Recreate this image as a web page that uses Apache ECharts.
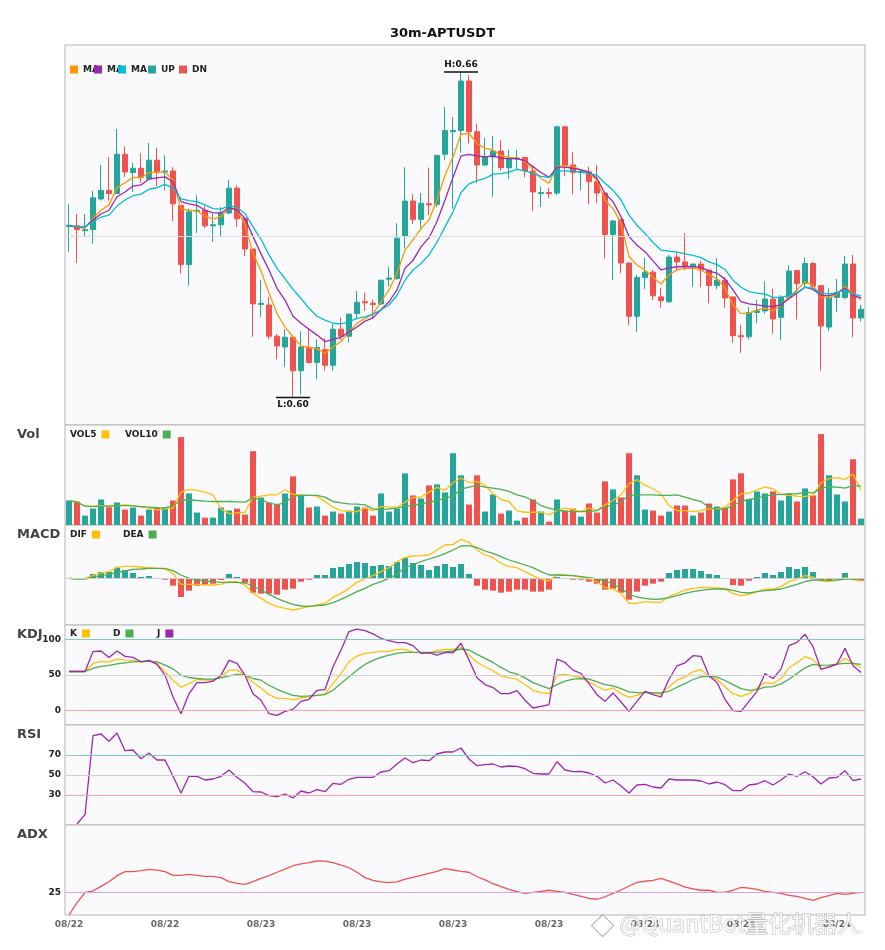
<!DOCTYPE html>
<html>
<head>
<meta charset="utf-8">
<title>30m-APTUSDT</title>
<script src="https://cdn.jsdelivr.net/npm/echarts@6/dist/echarts.min.js"></script>
<style>
  html, body { margin: 0; padding: 0; background: #fff; }
  #chart { width: 885px; height: 950px; }
</style>
</head>
<body>
<div id="chart"></div>
<script>
// 30m candles
var opens = [
  0.6319,0.6320,0.6311,0.6313,0.6370,0.6386,0.6380,0.6453,0.6419,0.6427,
  0.6407,0.6442,0.6420,0.6422,0.6358,0.6248,0.6347,0.6349,0.6320,0.6322,
  0.6344,0.6390,0.6334,0.6277,0.6174,0.6173,0.6115,0.6095,0.6113,0.6051,
  0.6094,0.6066,0.6090,0.6061,0.6128,0.6115,0.6157,0.6179,0.6176,0.6175,
  0.6221,0.6222,0.6300,0.6366,0.6332,0.6361,0.6360,0.6453,0.6495,0.6497,
  0.6589,0.6495,0.6433,0.6448,0.6459,0.6428,0.6444,0.6447,0.6422,0.6380,
  0.6382,0.6381,0.6504,0.6433,0.6419,0.6420,0.6402,0.6381,0.6304,0.6332,
  0.6251,0.6152,0.6224,0.6234,0.6188,0.6179,0.6262,0.6253,0.6245,0.6249,
  0.6238,0.6209,0.6219,0.6188,0.6116,0.6114,0.6159,0.6162,0.6184,0.6150,
  0.6187,0.6237,0.6213,0.6250,0.6209,0.6132,0.6187,0.6187,0.6249,0.6149];
var closes = [
  0.6321,0.6313,0.6313,0.6372,0.6386,0.6380,0.6453,0.6420,0.6427,0.6410,
  0.6442,0.6420,0.6422,0.6361,0.6248,0.6346,0.6349,0.6320,0.6322,0.6344,
  0.6390,0.6333,0.6277,0.6175,0.6176,0.6115,0.6097,0.6113,0.6051,0.6095,
  0.6066,0.6094,0.6061,0.6128,0.6115,0.6156,0.6178,0.6177,0.6174,0.6219,
  0.6223,0.6297,0.6366,0.6332,0.6362,0.6359,0.6451,0.6497,0.6497,0.6589,
  0.6495,0.6433,0.6448,0.6459,0.6428,0.6444,0.6446,0.6422,0.6383,0.6382,
  0.6380,0.6504,0.6433,0.6419,0.6421,0.6402,0.6381,0.6304,0.6329,0.6251,
  0.6152,0.6224,0.6234,0.6190,0.6181,0.6262,0.6253,0.6245,0.6249,0.6238,
  0.6209,0.6219,0.6186,0.6116,0.6114,0.6159,0.6162,0.6184,0.6147,0.6187,
  0.6236,0.6213,0.6250,0.6208,0.6134,0.6187,0.6196,0.6249,0.6149,0.6165];
var lows = [
  0.6272,0.6251,0.6300,0.6287,0.6367,0.6367,0.6379,0.6411,0.6383,0.6400,
  0.6405,0.6394,0.6386,0.6329,0.6231,0.6209,0.6307,0.6316,0.6290,0.6300,
  0.6342,0.6318,0.6264,0.6114,0.6151,0.6109,0.6072,0.6058,0.6001,0.6007,
  0.6065,0.6035,0.6051,0.6051,0.6108,0.6103,0.6148,0.6162,0.6148,0.6173,
  0.6207,0.6220,0.6278,0.6323,0.6315,0.6340,0.6355,0.6442,0.6352,0.6456,
  0.6473,0.6399,0.6431,0.6374,0.6422,0.6407,0.6425,0.6410,0.6348,0.6355,
  0.6372,0.6377,0.6412,0.6379,0.6386,0.6360,0.6362,0.6260,0.6219,0.6232,
  0.6136,0.6123,0.6203,0.6182,0.6168,0.6177,0.6236,0.6238,0.6207,0.6206,
  0.6176,0.6202,0.6168,0.6103,0.6084,0.6109,0.6139,0.6157,0.6120,0.6108,
  0.6183,0.6146,0.6207,0.6201,0.6051,0.6125,0.6160,0.6184,0.6113,0.6142];
var highs = [
  0.6360,0.6342,0.6342,0.6385,0.6433,0.6448,0.6500,0.6468,0.6437,0.6455,
  0.6474,0.6465,0.6451,0.6429,0.6358,0.6352,0.6377,0.6357,0.6342,0.6355,
  0.6405,0.6395,0.6334,0.6277,0.6219,0.6188,0.6119,0.6128,0.6113,0.6124,
  0.6130,0.6109,0.6111,0.6137,0.6149,0.6156,0.6199,0.6196,0.6183,0.6219,
  0.6244,0.6325,0.6429,0.6379,0.6381,0.6428,0.6451,0.6541,0.6522,0.6606,
  0.6600,0.6510,0.6484,0.6487,0.6479,0.6461,0.6461,0.6447,0.6431,0.6393,
  0.6390,0.6506,0.6506,0.6457,0.6424,0.6430,0.6433,0.6381,0.6331,0.6332,
  0.6251,0.6229,0.6261,0.6238,0.6205,0.6266,0.6272,0.6306,0.6250,0.6255,
  0.6238,0.6260,0.6225,0.6188,0.6136,0.6169,0.6182,0.6217,0.6203,0.6191,
  0.6247,0.6237,0.6261,0.6253,0.6209,0.6204,0.6221,0.6264,0.6266,0.6173];

// moving averages on the price panel
var maFast = [
  0.6320,0.6317,0.6316,0.6334,0.6349,0.6359,0.6391,0.6400,0.6410,0.6409,
  0.6419,0.6420,0.6420,0.6405,0.6351,0.6349,0.6348,0.6337,0.6333,0.6337,
  0.6354,0.6349,0.6323,0.6269,0.6236,0.6195,0.6157,0.6132,0.6114,0.6097,
  0.6094,0.6092,0.6083,0.6095,0.6105,0.6123,0.6139,0.6148,0.6156,0.6179,
  0.6201,0.6232,0.6275,0.6294,0.6315,0.6331,0.6368,0.6414,0.6448,0.6490,
  0.6492,0.6473,0.6464,0.6461,0.6451,0.6447,0.6446,0.6439,0.6424,0.6408,
  0.6399,0.6431,0.6432,0.6430,0.6424,0.6419,0.6404,0.6368,0.6352,0.6325,
  0.6263,0.6247,0.6238,0.6224,0.6212,0.6229,0.6238,0.6241,0.6241,0.6238,
  0.6229,0.6222,0.6204,0.6173,0.6157,0.6158,0.6164,0.6167,0.6162,0.6173,
  0.6188,0.6201,0.6216,0.6210,0.6188,0.6186,0.6193,0.6208,0.6193,0.6183];
var maMid = [
  0.6320,0.6318,0.6318,0.6331,0.6342,0.6349,0.6374,0.6383,0.6394,0.6396,
  0.6407,0.6409,0.6411,0.6402,0.6365,0.6361,0.6358,0.6349,0.6344,0.6344,
  0.6354,0.6349,0.6334,0.6300,0.6268,0.6238,0.6204,0.6182,0.6152,0.6139,
  0.6128,0.6117,0.6105,0.6109,0.6113,0.6123,0.6132,0.6143,0.6149,0.6164,
  0.6179,0.6201,0.6241,0.6256,0.6281,0.6298,0.6328,0.6368,0.6410,0.6450,
  0.6453,0.6450,0.6448,0.6450,0.6446,0.6445,0.6445,0.6441,0.6430,0.6419,
  0.6410,0.6429,0.6429,0.6427,0.6424,0.6420,0.6408,0.6380,0.6365,0.6337,
  0.6300,0.6284,0.6272,0.6255,0.6238,0.6242,0.6244,0.6244,0.6244,0.6243,
  0.6236,0.6232,0.6221,0.6201,0.6179,0.6175,0.6173,0.6171,0.6170,0.6173,
  0.6185,0.6195,0.6206,0.6202,0.6191,0.6190,0.6195,0.6204,0.6191,0.6186];
var maSlow = [
  0.6320,0.6319,0.6318,0.6328,0.6336,0.6340,0.6357,0.6368,0.6376,0.6379,
  0.6388,0.6391,0.6397,0.6390,0.6370,0.6367,0.6365,0.6359,0.6352,0.6351,
  0.6357,0.6354,0.6343,0.6318,0.6295,0.6266,0.6241,0.6222,0.6202,0.6185,
  0.6167,0.6152,0.6145,0.6139,0.6138,0.6142,0.6148,0.6151,0.6156,0.6164,
  0.6173,0.6191,0.6219,0.6238,0.6250,0.6266,0.6290,0.6318,0.6346,0.6382,
  0.6398,0.6404,0.6408,0.6416,0.6417,0.6420,0.6425,0.6422,0.6417,0.6412,
  0.6410,0.6422,0.6422,0.6421,0.6420,0.6417,0.6414,0.6399,0.6386,0.6368,
  0.6340,0.6321,0.6306,0.6289,0.6275,0.6273,0.6271,0.6268,0.6265,0.6261,
  0.6253,0.6248,0.6239,0.6219,0.6206,0.6198,0.6195,0.6193,0.6187,0.6187,
  0.6191,0.6196,0.6206,0.6204,0.6195,0.6193,0.6196,0.6201,0.6193,0.6190];

// volume panel
var volume = [
  73,70,28,49,76,53,67,46,52,28, 46,52,52,73,262,94,37,22,22,52,
  43,49,31,220,82,67,61,94,145,88, 52,55,28,40,34,43,55,52,28,94,
  40,49,154,88,79,118,121,97,214,148, 61,148,40,91,34,43,13,22,76,40,
  10,76,43,49,25,64,37,130,106,82, 214,148,46,43,28,40,58,58,28,37,
  64,55,52,136,154,76,100,94,100,73, 94,70,109,88,271,148,91,70,196,19];
var vol5 = [
  72,70,56,56,58,56,58,60,58,54, 50,45,48,50,98,106,103,98,90,48,
  34,36,38,83,86,90,90,105,91,90, 88,86,70,53,43,40,40,50,43,55,
  54,53,68,82,83,98,112,103,126,140, 126,130,118,93,76,70,42,38,38,38,
  30,43,50,46,40,51,43,60,73,90, 123,135,118,108,93,58,43,43,40,43,
  48,48,53,73,93,95,105,113,108,91, 88,86,85,88,126,138,141,136,152,103];
var vol10 = [
  72,68,56,55,56,56,58,58,57,55, 53,51,51,58,73,76,73,71,70,70,
  70,69,68,81,76,65,61,66,86,88, 88,88,83,70,66,63,62,60,48,45,
  48,50,56,58,63,68,73,80,86,107, 113,118,113,110,106,100,90,84,73,58,
  50,44,41,40,40,40,43,56,58,70, 88,90,90,90,88,88,90,83,76,70,
  53,46,48,58,70,76,80,86,90,91, 93,93,98,95,110,114,113,110,118,116];

// MACD panel (units of 1e-5)
var macdHist = [
  0,-2,-2,13,19,19,32,25,16,4, 7,-2,-4,-22,-56,-37,-22,-19,-16,-5,
  13,4,-13,-43,-46,-46,-49,-34,-31,-10, -4,10,10,31,34,43,49,46,37,40,
  37,49,61,46,40,25,37,43,34,43, 13,-22,-34,-37,-43,-40,-34,-34,-40,-40,
  -34,4,-2,-4,-4,-10,-16,-34,-31,-43, -64,-40,-22,-16,-10,16,25,28,28,22,
  13,10,0,-20,-22,-7,4,16,10,19, 34,28,34,19,-7,-7,-2,16,-4,-7];
var dif = [
  0,-2,0,8,16,20,33,36,36,34, 32,30,28,15,-18,-18,-18,-20,-20,-18,
  -10,-10,-20,-45,-60,-75,-85,-90,-95,-90, -85,-80,-75,-57,-45,-30,-12,-2,8,20,
  32,50,63,67,68,70,85,100,102,117, 108,85,70,62,45,35,32,20,8,-2,
  -8,12,10,8,4,-2,-10,-28,-32,-45, -75,-75,-70,-72,-72,-55,-45,-35,-30,-27,
  -28,-29,-32,-45,-52,-48,-40,-32,-32,-25, -10,-2,8,4,-8,-10,-5,2,-4,-8];
var dea = [
  0,-2,-2,4,8,12,17,22,27,28, 30,30,30,23,10,0,-5,-8,-10,-12,
  -12,-12,-14,-23,-35,-48,-60,-70,-78,-83, -84,-82,-80,-73,-63,-52,-40,-30,-18,-10,
  0,13,32,40,50,58,65,74,85,97, 98,92,82,75,65,55,48,40,32,20,
  10,10,9,8,5,2,-2,-8,-17,-30, -48,-56,-60,-63,-62,-58,-52,-45,-40,-36,
  -33,-32,-32,-36,-42,-44,-40,-37,-35,-32, -25,-18,-10,-5,-5,-6,-5,-2,-2,-3];

// KDJ panel
var kdjK = [
  54.9,54.9,54.9,66.2,69.0,68.1,72.3,70.9,70.4,67.6, 70.0,66.2,54.5,42.7,32.9,38.0,43.7,42.7,42.7,47.4,
  56.8,56.8,49.8,39.4,31.9,22.5,17.4,17.4,15.5,17.8, 19.7,21.6,23.9,38.0,52.1,68.5,76.5,80.3,81.7,83.1,
  83.1,85.9,85.9,81.7,81.2,79.8,84.5,85.9,85.9,88.7, 77.9,67.6,61.5,55.9,48.8,46.0,44.1,36.6,28.6,25.4,
  23.9,49.8,50.7,48.8,46.5,40.4,34.3,28.6,31.9,23.9, 18.8,21.6,26.3,24.9,23.0,33.3,42.7,47.4,54.5,57.7,
  47.4,44.1,33.3,23.9,20.2,23.9,31.9,39.4,38.0,45.1, 60.1,67.1,75.6,71.8,59.2,60.6,64.8,73.2,66.2,60.6];
var kdjD = [
  54.9,54.9,54.9,59.2,62.0,63.4,65.7,67.1,68.5,69.0, 69.0,68.5,63.8,58.7,49.8,46.5,45.1,44.1,44.1,46.0,
  48.8,50.7,49.8,45.1,42.7,35.7,30.0,25.4,21.6,20.2, 20.7,21.6,22.5,28.6,38.0,47.4,56.8,64.8,70.4,74.6,
  77.9,80.3,81.7,81.7,81.7,81.7,81.7,82.6,83.6,86.4, 85.0,78.9,73.2,67.6,60.6,54.5,51.2,46.0,39.4,35.2,
  31.0,36.6,41.3,44.1,45.1,44.1,40.4,36.6,34.7,31.0, 26.3,25.4,25.4,24.9,24.9,27.2,32.9,38.0,43.7,47.4,
  48.4,46.9,42.3,36.6,31.0,28.6,29.6,32.9,33.8,37.6, 44.1,52.1,60.1,64.8,63.4,63.8,65.3,66.2,66.2,64.8];
var kdjJ = [
  54.9,54.9,54.9,82.6,83.6,74.6,83.6,76.1,74.6,68.5, 70.4,64.8,49.8,19.2,-4.2,23.9,39.4,39.4,41.3,49.8,
  70.4,66.2,49.8,23.9,14.6,-4.2,-6.6,-0.9,1.9,13.1, 16.0,28.6,29.6,61.5,85.0,110.8,114.1,112.2,107.5,101.4,
  98.1,95.3,95.3,91.1,80.3,81.2,77.9,81.2,81.2,94.4, 70.9,46.0,36.6,32.4,23.9,23.9,28.2,14.6,3.8,6.1,
  8.5,72.3,67.6,56.8,52.1,38.0,22.5,13.1,24.9,12.2, -0.9,13.1,27.2,22.5,19.2,44.1,62.9,67.1,77.0,76.1,
  48.8,39.4,16.0,0,-0.9,13.1,27.2,52.1,45.1,58.2, 91.1,95.8,107.0,89.7,57.7,61.5,65.3,87.3,62.9,53.5];

// RSI and ADX panels
var rsi = [
  null,1,10.3,89.3,91,83.7,92,74.3,75,66.3, 72,65,65,48.7,32,48.7,48.7,45,46,48.7,
  55,47.7,41.7,33.3,33,29.3,28.3,31,27,34, 32,35.3,33.3,41.7,40.7,45.7,47.7,47.7,47.7,53,
  54.3,61,67,62.3,65,64.3,71,73,73,77, 66,59.3,60.3,61,58,59,58.7,56.3,51.7,51,
  51,63.3,55,53.3,53.7,52,48.7,42,45,39, 32,40,40.7,38,37,46,45,45,45,44,
  41,43,40.3,34.3,34.3,40,41,44.3,40,45, 51,48.7,53.3,48.3,41,47,47.7,54.3,44.3,46];
var adx = [
  15,20.5,24.9,25.7,27.7,29.8,32.5,34.3,34.3,34.7, 35.3,34.9,34.3,32.6,32.6,33.1,32.6,32.2,32.2,31.6,
  29.8,29.1,28.6,29.8,31.3,32.5,34,35.4,36.9,37.7, 38.3,39,38.9,38.3,37.2,36,34,31.6,30.4,29.7,
  29.4,29.7,30.9,31.7,32.6,33.5,34.4,35.6,35,34.4, 34,32,30.6,28.9,27.6,26.4,25.4,24.6,25.1,25.5,
  26,25.5,25.1,24.2,23.3,22.4,22,23.1,24.6,26.1, 27.9,29.5,30,30.4,31.3,30.1,28.8,27.4,26.6,26,
  26,25.1,25.1,26,27.3,26.9,26.4,25.5,25.1,24.6, 23.7,23.3,22.4,21.5,22.7,23.6,24.6,24.2,24.6,25.1];

var kdjLevels = [100, 50, 0];
var rsiLevels = [70, 50, 30];
var adxLevels = [25];
var priceGridLine = 0.6305;

// bar times: 30 minute steps
var categories = [];
var t0 = Date.UTC(2023, 7, 22, 14, 0);
for (var i = 0; i < opens.length; i++) {
    var d = new Date(t0 + i * 30 * 60 * 1000);
    var mm = ('0' + (d.getUTCMonth() + 1)).slice(-2);
    var dd = ('0' + d.getUTCDate()).slice(-2);
    var hh = ('0' + d.getUTCHours()).slice(-2);
    var mi = ('0' + d.getUTCMinutes()).slice(-2);
    categories.push(mm + '/' + dd + ' ' + hh + ':' + mi);
}

var UP = '#26a69a', DN = '#ef5350';
var FONT = 'DejaVu Sans';

var kline = [];
var volBars = [];
var histBars = [];
var hiIdx = 0, loIdx = 0;
for (var i = 0; i < opens.length; i++) {
    kline.push([opens[i], closes[i], lows[i], highs[i]]);
    var up = closes[i] >= opens[i];
    volBars.push({value: volume[i], itemStyle: {color: up ? UP : DN}});
    histBars.push({value: macdHist[i], itemStyle: {color: macdHist[i] >= 0 ? UP : DN}});
    if (highs[i] > highs[hiIdx]) hiIdx = i;
    if (lows[i] < lows[loIdx]) loIdx = i;
}

function levelLine(levels, colors) {
    return {
        silent: true,
        symbol: ['none', 'none'],
        animation: false,
        label: {position: 'start', formatter: '{c}', color: '#222', fontSize: 9, fontWeight: 'bold', fontFamily: FONT, distance: 4},
        data: levels.map(function (v, k) {
            return {yAxis: v, lineStyle: {color: colors[k], type: 'solid', width: 1}};
        })
    };
}

var tops = [45, 425, 525, 625, 725, 825];
var heights = [380, 100, 100, 100, 100, 90];
var grids = [], xAxes = [], yAxes = [];
for (var g = 0; g < tops.length; g++) {
    grids.push({left: 65, right: 20, top: tops[g], height: heights[g], show: true,
        backgroundColor: '#fafafc', borderColor: '#b5b5b5', borderWidth: 1});
    xAxes.push({
        type: 'category', gridIndex: g, data: categories, boundaryGap: true,
        axisLine: {show: false}, axisTick: {show: false}, splitLine: {show: false},
        axisLabel: {
            show: g === tops.length - 1, interval: 11, color: '#666', fontSize: 9,
            fontWeight: 'bold', fontFamily: FONT, margin: 5,
            formatter: function (v) { return v.slice(0, 5); }
        }
    });
}
var yRanges = [[0.595, 0.6656], [0, 298], [-140, 160], [-20, 120], [0, 100], [15, 55]];
for (var g = 0; g < yRanges.length; g++) {
    yAxes.push({
        type: 'value', gridIndex: g, min: yRanges[g][0], max: yRanges[g][1], scale: true,
        axisLine: {show: false}, axisTick: {show: false}, axisLabel: {show: false},
        splitLine: {show: false}
    });
}

function lineSeries(name, data, color, xi, extra) {
    var s = {
        name: name, type: 'line', data: data, xAxisIndex: xi, yAxisIndex: xi,
        color: color, showSymbol: false, symbol: 'none', smooth: false,
        lineStyle: {color: color, width: 1.3}, animation: false, z: 3
    };
    for (var k in extra) s[k] = extra[k];
    return s;
}

function oneLegend(name, left, top, opts) {
    var l = {
        data: [name], left: left, top: top, padding: 0, itemGap: 0,
        itemWidth: 8, itemHeight: 8, icon: 'rect', selectedMode: false,
        textStyle: {color: '#222', fontSize: 9, fontWeight: 'bold', fontFamily: FONT}
    };
    for (var k in opts) {
        if (k === 'textWidth') l.textStyle.width = opts[k];
        else l[k] = opts[k];
    }
    return l;
}

var panelTitle = function (text, top) {
    return {text: text, left: 17, top: top, padding: 0,
        textStyle: {fontSize: 13, fontWeight: 'bold', color: '#444', fontFamily: FONT}};
};

var myChart = echarts.init(document.getElementById('chart'));
var option = {
    backgroundColor: '#ffffff',
    animation: false,
    textStyle: {fontFamily: FONT},
    title: [
        {text: '30m-APTUSDT', left: 'center', top: 27, padding: 0,
            textStyle: {fontSize: 13, fontWeight: 'bold', color: '#111', fontFamily: FONT}},
        panelTitle('Vol', 428),
        panelTitle('MACD', 528),
        panelTitle('KDJ', 628),
        panelTitle('RSI', 728),
        panelTitle('ADX', 828)
    ],
    legend: [
        oneLegend('MA5', 70, 65, {formatter: function () { return 'MA'; }}),
        oneLegend('MA10', 94, 65, {formatter: function () { return 'MA'; }}),
        oneLegend('MA20', 118, 65, {formatter: function () { return 'MA'; }}),
        oneLegend('UP', 148, 65, {}),
        oneLegend('DN', 179, 65, {}),
        oneLegend('VOL5', 70, 430, {align: 'right', textWidth: 26}),
        oneLegend('VOL10', 125, 430, {align: 'right', textWidth: 33}),
        oneLegend('DIF', 70, 530, {align: 'right', textWidth: 22}),
        oneLegend('DEA', 123, 530, {align: 'right', textWidth: 25}),
        oneLegend('K', 70, 629, {align: 'right', textWidth: 12}),
        oneLegend('D', 113, 629, {align: 'right', textWidth: 13}),
        oneLegend('J', 157, 629, {align: 'right', textWidth: 13})
    ],
    grid: grids,
    xAxis: xAxes,
    yAxis: yAxes,
    graphic: [
        {type: 'polygon', left: 591, top: 914, z: 100, silent: true,
            shape: {points: [[11, 0], [22, 11], [11, 22], [0, 11]]},
            style: {fill: 'rgba(255,255,255,0.85)', stroke: 'rgba(165,165,165,0.8)', lineWidth: 1.2}},
        {type: 'text', left: 619, top: 911, z: 100, silent: true,
            style: {text: '@QuantBot量化机器人', fill: 'rgba(255,255,255,0.85)',
                stroke: 'rgba(160,160,160,0.75)', lineWidth: 1,
                font: '23px "Noto Sans CJK SC"'}}
    ],
    series: [
        {
            name: 'K线', type: 'candlestick', data: kline, xAxisIndex: 0, yAxisIndex: 0,
            barWidth: '75%', animation: false,
            itemStyle: {color: UP, color0: DN, borderColor: UP, borderColor0: DN, borderWidth: 1},
            markLine: {
                silent: true, symbol: ['none', 'none'], label: {show: false}, animation: false,
                data: [{yAxis: priceGridLine}], lineStyle: {color: '#dcdce4', type: 'solid', width: 1}
            },
            markPoint: {
                symbol: 'rect', symbolSize: [34, 1.5], animation: false, silent: true,
                itemStyle: {color: '#111'},
                label: {fontSize: 9, fontWeight: 'bold', color: '#111', fontFamily: FONT, distance: 2},
                data: [
                    {coord: [hiIdx, highs[hiIdx]], label: {position: 'top', formatter: 'H:' + highs[hiIdx].toFixed(2)}},
                    {coord: [loIdx, lows[loIdx]], label: {position: 'bottom', formatter: 'L:' + lows[loIdx].toFixed(2)}}
                ]
            }
        },
        lineSeries('MA5', maFast, '#ff9800', 0),
        lineSeries('MA10', maMid, '#9c27b0', 0),
        lineSeries('MA20', maSlow, '#00bcd4', 0),
        lineSeries('UP', [], UP, 0),
        lineSeries('DN', [], DN, 0),

        {name: 'Vol', type: 'bar', data: volBars, xAxisIndex: 1, yAxisIndex: 1, barWidth: '75%', animation: false},
        lineSeries('VOL5', vol5, '#ffc107', 1),
        lineSeries('VOL10', vol10, '#4caf50', 1),

        {name: 'MACD', type: 'bar', data: histBars, xAxisIndex: 2, yAxisIndex: 2, barWidth: '75%', animation: false,
            markLine: {silent: true, symbol: ['none', 'none'], label: {show: false}, animation: false,
                data: [{yAxis: 0}], lineStyle: {color: '#cfcfd6', type: 'solid', width: 1}}},
        lineSeries('DIF', dif, '#ffc107', 2),
        lineSeries('DEA', dea, '#4caf50', 2),

        lineSeries('K', kdjK, '#ffc107', 3, {markLine: levelLine(kdjLevels, ['#80cbc4', '#cfcfcf', '#f5a3a3'])}),
        lineSeries('D', kdjD, '#4caf50', 3),
        lineSeries('J', kdjJ, '#9c27b0', 3),

        lineSeries('RSI', rsi, '#9c27b0', 4, {markLine: levelLine(rsiLevels, ['#80cbc4', '#cfcfcf', '#f5a3a3'])}),

        lineSeries('ADX', adx, '#ef5350', 5, {markLine: levelLine(adxLevels, ['#d6a6e0'])})
    ]
};
myChart.setOption(option);

window.onresize = function () {
    myChart.resize();
};
</script>
</body>
</html>
